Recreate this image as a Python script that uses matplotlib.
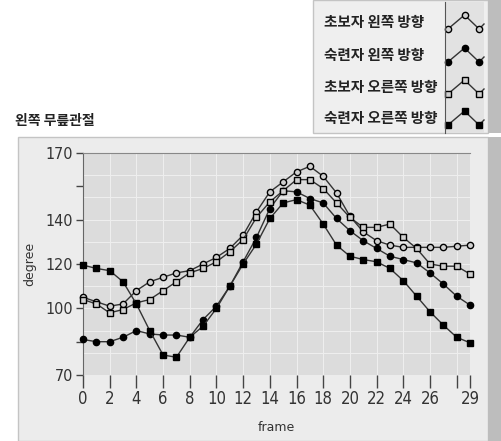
import matplotlib
matplotlib.use("Agg")
import matplotlib.pyplot as plt
from matplotlib.patches import Rectangle

plt.rcParams["font.family"] = ["Noto Sans CJK KR", "DejaVu Sans"]

W, H = 501, 441

frames = list(range(30))

series_names = ["초보자 왼쪽 방향", "숙련자 왼쪽 방향", "초보자 오른쪽 방향", "숙련자 오른쪽 방향"]

novice_left = [105, 103, 101, 102, 108, 112, 114, 116, 117, 120, 123, 127, 133, 143.5, 152.5,
               157, 161.5, 164, 159.5, 152, 141.5, 134.5, 130.5, 128.5, 127.5, 127.5, 127.5, 127.5, 128, 128.5]
expert_left = [86, 85, 85, 87, 90, 88.5, 88, 88, 87, 95, 101, 110, 121, 132, 145,
               153, 152.5, 149.5, 147.5, 140.5, 135, 130.5, 127, 123.5, 122, 120.5, 116, 111, 105.5, 101.5]
novice_right = [104, 102, 98, 99.5, 102.5, 104, 108, 112, 116, 118, 121, 125.5, 131, 141, 148,
                153, 158, 158, 154, 147.5, 141, 136.5, 136.5, 138, 132, 127, 120, 119, 119, 115.5]
expert_right = [119.5, 118, 117, 112, 102, 90, 79, 78, 87, 92, 100, 110, 120, 129, 140.5,
                147.5, 149, 146.5, 138, 128.5, 123.5, 122, 121, 118, 112.5, 105.5, 98.5, 92.5, 87, 84.5]

series_values = [novice_left, expert_left, novice_right, expert_right]
markers = ["o", "o", "s", "s"]
face_colors = ["#d0d0d0", "black", "#d0d0d0", "black"]

y_ticks = [70, 85, 100, 120, 140, 155, 170]
y_tick_labels = ["70", "", "100", "120", "140", "", "170"]
x_ticks = [0, 2, 4, 6, 8, 10, 12, 14, 16, 18, 20, 22, 24, 26, 28, 29]
x_tick_labels = ["0", "2", "4", "6", "8", "10", "12", "14", "16", "18", "20", "22", "24", "26", "", "29"]


def fx(px):
    return px / W


def fy(py):
    return 1 - py / H


def panel(x0, y0, x1, y1, color, edge="none"):
    fig.add_artist(Rectangle((fx(x0), fy(y1)), fx(x1) - fx(x0), fy(y0) - fy(y1),
                             transform=fig.transFigure, facecolor=color, edgecolor=edge,
                             lw=1, zorder=-10))


fig = plt.figure(figsize=(W / 100, H / 100), dpi=100)
fig.patch.set_facecolor("white")

# main panel and its shaded right edge
panel(18, 137, 488, 441, "#ececec", "#c4c4c4")
panel(488, 137, 501, 441, "#bdbdbd")

# legend panel
panel(313, 0, 488, 133, "#efefef", "#c4c4c4")
panel(488, 0, 501, 133, "#bdbdbd")

row_y = [22, 55, 87, 118]
for name, py in zip(series_names, row_y):
    fig.text(fx(324), fy(py), name, fontsize=10.5, fontweight="bold", color="#222222",
             va="center", ha="left")

lax = fig.add_axes([fx(445), fy(133), fx(484) - fx(445), fy(2) - fy(133)])
lax.set_facecolor("#e2e2e2")
lax.set_xlim(0, 4)
lax.set_ylim(133, 2)
lax.set_xticks([])
lax.set_yticks([])
for side in ["top", "right", "bottom"]:
    lax.spines[side].set_visible(False)
lax.spines["left"].set_color("#555555")
for py, m, fc in zip(row_y, markers, face_colors):
    lax.plot([0.3, 2.0, 3.5, 4.0], [py + 7, py - 7, py + 7, py + 2], color="#333333", lw=1,
             marker=m, markersize=4.5, markerfacecolor=fc, markeredgecolor="black",
             markevery=[0, 1, 2], clip_on=False)

fig.text(fx(15), fy(121), "왼쪽 무릎관절", fontsize=10, fontweight="bold", color="#222222",
         va="center", ha="left")

ax = fig.add_axes([fx(83), fy(375), fx(470) - fx(83), fy(153) - fy(375)])
ax.set_facecolor("#dcdcdc")
ax.set_xlim(0, 29)
ax.set_ylim(70, 170)

for gx in range(0, 30, 2):
    ax.axvline(gx, color="#eeeeee", lw=0.8, zorder=0)
for gy in range(80, 170, 10):
    ax.axhline(gy, color="#eeeeee", lw=0.8, zorder=0)

for vals, m, fc in zip(series_values, markers, face_colors):
    ax.plot(frames, vals, color="#333333", lw=1, marker=m, markersize=4.5,
            markerfacecolor=fc, markeredgecolor="black", markeredgewidth=1, clip_on=False, zorder=3)

ax.set_yticks(y_ticks)
ax.set_yticklabels(y_tick_labels)
ax.set_xticks(x_ticks)
ax.set_xticklabels(x_tick_labels)
for lab in ax.get_yticklabels():
    lab.set_family("DejaVu Sans")
    lab.set_fontstretch("condensed")
    lab.set_fontsize(11.5)
for lab in ax.get_xticklabels():
    lab.set_family("DejaVu Sans")
    lab.set_fontstretch("condensed")
    lab.set_fontsize(12)
ax.tick_params(axis="y", direction="out", length=5, width=1, color="#444444", pad=2, labelcolor="#333333")
ax.tick_params(axis="x", direction="out", length=9, width=1, color="#444444", pad=2, labelcolor="#333333")

for side in ["right", "bottom"]:
    ax.spines[side].set_visible(False)
ax.spines["top"].set_color("#888888")
ax.spines["left"].set_color("#666666")

ax.set_xlabel("frame", fontsize=9, color="#333333", labelpad=9, family="DejaVu Sans")
ax.set_ylabel("degree", fontsize=9, color="#333333", labelpad=7, family="DejaVu Sans")

fig.savefig("out.png", dpi=100)
